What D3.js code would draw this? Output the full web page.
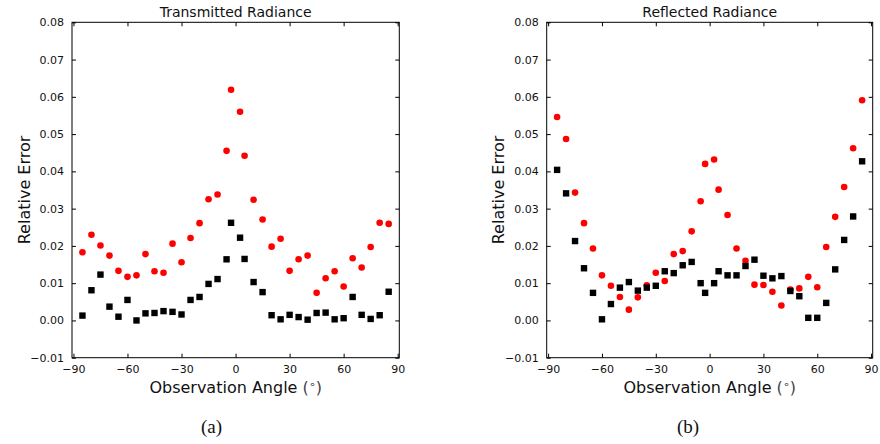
<!DOCTYPE html>
<html>
<head>
<meta charset="utf-8">
<script src="https://cdn.jsdelivr.net/npm/d3@7"></script>
<style>
  body { margin: 0; background: #fff; }
  svg { display: block; font-family: "DejaVu Sans", sans-serif; }
</style>
</head>
<body>
<svg id="chart" width="880" height="444"></svg>
<script>
// observation angles (deg)
const angles = [-85, -80, -75, -70, -65, -60, -55, -50, -45, -40, -35, -30, -25, -20, -15, -10, -5, -2.5,
  2.5, 5, 10, 15, 20, 25, 30, 35, 40, 45, 50, 55, 60, 65, 70, 75, 80, 85];

// transmitted radiance
const transmittedRed = [0.0183, 0.0230, 0.0201, 0.0174, 0.0133, 0.0117, 0.0121, 0.0178, 0.0132, 0.0128, 0.0206, 0.0156,
  0.0221, 0.0261, 0.0325, 0.0338, 0.0455, 0.0619, 0.0560, 0.0442, 0.0324, 0.0271, 0.0198, 0.0219,
  0.0133, 0.0164, 0.0174, 0.0074, 0.0113, 0.0132, 0.0091, 0.0167, 0.0142, 0.0197, 0.0262, 0.0259];
const transmittedBlack = [0.0013, 0.0081, 0.0123, 0.0037, 0.0010, 0.0055, 0.0000, 0.0019, 0.0020, 0.0025, 0.0023, 0.0016,
  0.0055, 0.0063, 0.0098, 0.0111, 0.0164, 0.0262, 0.0222, 0.0165, 0.0103, 0.0076, 0.0014, 0.0003,
  0.0015, 0.0009, 0.0002, 0.0020, 0.0021, 0.0003, 0.0006, 0.0063, 0.0015, 0.0004, 0.0014, 0.0077];

// reflected radiance
const reflectedRed = [0.0546, 0.0487, 0.0343, 0.0261, 0.0193, 0.0121, 0.0093, 0.0063, 0.0029, 0.0062, 0.0094, 0.0128,
  0.0106, 0.0178, 0.0186, 0.0239, 0.0320, 0.0420, 0.0432, 0.0351, 0.0283, 0.0193, 0.0160, 0.0096,
  0.0095, 0.0077, 0.0040, 0.0083, 0.0086, 0.0117, 0.0089, 0.0197, 0.0278, 0.0358, 0.0462, 0.0591];
const reflectedBlack = [0.0404, 0.0341, 0.0213, 0.0140, 0.0074, 0.0003, 0.0044, 0.0088, 0.0103, 0.0080, 0.0088, 0.0093,
  0.0132, 0.0127, 0.0148, 0.0157, 0.0100, 0.0074, 0.0100, 0.0132, 0.0121, 0.0121, 0.0146, 0.0163,
  0.0120, 0.0113, 0.0119, 0.0079, 0.0065, 0.0007, 0.0007, 0.0047, 0.0137, 0.0216, 0.0279, 0.0427];

const xTicks = [-90, -60, -30, 0, 30, 60, 90];
const yTicks = [-0.01, 0.00, 0.01, 0.02, 0.03, 0.04, 0.05, 0.06, 0.07, 0.08];
const titles = ['Transmitted Radiance', 'Reflected Radiance'];
const captions = ['(a)', '(b)'];

const ScatterPanels = {
  top: 22.3, bottom: 357.7,
  panels: [
    { left: 72, right: 399.3, caption: 211.5 },
    { left: 546.7, right: 872.7, caption: 688 }
  ],
  svg: null,

  init: function() {
    const self = this;
    self.svg = d3.select('#chart');
    self.drawPanel(0, transmittedRed, transmittedBlack);
    self.drawPanel(1, reflectedRed, reflectedBlack);
  },

  drawPanel: function(index, redValues, blackValues) {
    const self = this;
    let p = self.panels[index];
    let xScale = d3.scaleLinear().domain([-90.8, 90.9]).range([p.left, p.right]);
    let yScale = d3.scaleLinear().domain([-0.01, 0.08]).range([self.bottom, self.top]);
    let g = self.svg.append('g');
    let minus = function(s) { return s.replace('-', '\u2212'); };

    // axes, ticks pointing inward on all four sides
    g.append('g')
      .attr('transform', 'translate(0,' + self.bottom + ')')
      .call(d3.axisBottom(xScale).tickValues(xTicks).tickSize(-4).tickPadding(8)
        .tickFormat(function(d) { return minus(d3.format('d')(d)); }));
    g.append('g')
      .attr('transform', 'translate(0,' + self.top + ')')
      .call(d3.axisTop(xScale).tickValues(xTicks).tickSize(-4).tickFormat(''));
    g.append('g')
      .attr('transform', 'translate(' + p.left + ',0)')
      .call(d3.axisLeft(yScale).tickValues(yTicks).tickSize(-4).tickPadding(8)
        .tickFormat(function(d) { return minus(d3.format('.2f')(d)); }));
    g.append('g')
      .attr('transform', 'translate(' + p.right + ',0)')
      .call(d3.axisRight(yScale).tickValues(yTicks).tickSize(-4).tickFormat(''));

    g.selectAll('.domain').remove();
    g.selectAll('.tick line').attr('stroke', '#000').attr('stroke-width', 1);
    g.selectAll('.tick text')
      .attr('fill', '#111')
      .style('font-family', '"DejaVu Sans", sans-serif')
      .style('font-size', '11px');

    g.append('rect')
      .attr('x', p.left).attr('y', self.top)
      .attr('width', p.right - p.left).attr('height', self.bottom - self.top)
      .attr('fill', 'none').attr('stroke', '#000').attr('stroke-width', 1);

    // red circles first, black squares on top
    g.selectAll('.red-dot')
      .data(redValues)
      .enter().append('circle')
      .attr('class', 'red-dot')
      .attr('cx', function(d, i) { return xScale(angles[i]); })
      .attr('cy', function(d) { return yScale(d); })
      .attr('r', 3.3)
      .style('fill', '#ff0000');

    let side = 6.4;
    g.selectAll('.black-square')
      .data(blackValues)
      .enter().append('rect')
      .attr('class', 'black-square')
      .attr('x', function(d, i) { return xScale(angles[i]) - side / 2; })
      .attr('y', function(d) { return yScale(d) - side / 2; })
      .attr('width', side).attr('height', side)
      .style('fill', '#000');

    let midX = (p.left + p.right) / 2;
    g.append('text')
      .attr('x', midX).attr('y', 16.5)
      .style('text-anchor', 'middle')
      .style('font-size', '14px')
      .attr('fill', '#111')
      .text(titles[index]);

    let xLabel = g.append('text')
      .attr('x', midX).attr('y', 393)
      .style('text-anchor', 'middle')
      .style('font-size', '16px')
      .attr('fill', '#111');
    xLabel.append('tspan').text('Observation Angle ');
    xLabel.append('tspan').attr('fill', '#444').text('(');
    xLabel.append('tspan').attr('fill', '#444').attr('dy', -5).style('font-size', '11px').text('\u2218');
    xLabel.append('tspan').attr('fill', '#444').attr('dy', 5).text(')');

    g.append('text')
      .attr('transform', 'translate(' + (p.left - 48) + ',' + ((self.top + self.bottom) / 2) + ') rotate(-90)')
      .attr('dy', '0.35em')
      .style('text-anchor', 'middle')
      .style('font-size', '16px')
      .attr('fill', '#111')
      .text('Relative Error');

    g.append('text')
      .attr('x', p.caption).attr('y', 433)
      .style('text-anchor', 'middle')
      .style('font-family', '"Liberation Serif", serif')
      .style('font-size', '19px')
      .attr('fill', '#111')
      .text(captions[index]);
  }
};

ScatterPanels.init();
</script>
</body>
</html>
